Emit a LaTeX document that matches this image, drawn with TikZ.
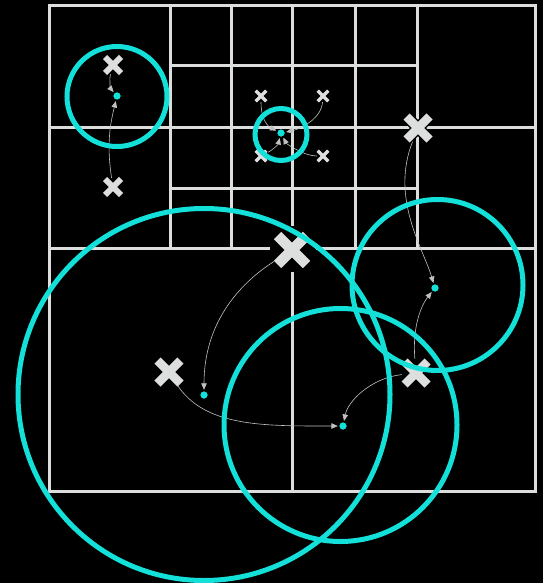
\documentclass[tikz,border=0pt]{standalone}
\usetikzlibrary{arrows.meta}
\definecolor{gridgray}{HTML}{DCDEDD}
\definecolor{xgray}{HTML}{DDDFDE}
\definecolor{arrgray}{HTML}{BFC2C1}
\definecolor{cyanring}{HTML}{13E0D8}
\newcommand{\xcross}[3]{%
  \draw[black, line width=#3+3pt, line cap=butt]
    ([shift={(-#2,-#2)}]#1.center) -- ([shift={(#2,#2)}]#1.center)
    ([shift={(-#2,#2)}]#1.center) -- ([shift={(#2,-#2)}]#1.center);
  \draw[xgray, line width=#3, line cap=butt]
    ([shift={(-#2,-#2)}]#1.center) -- ([shift={(#2,#2)}]#1.center)
    ([shift={(-#2,#2)}]#1.center) -- ([shift={(#2,-#2)}]#1.center);}
\tikzset{
  gridline/.style={gridgray, line width=3pt},
  cring/.style={cyanring, line width=5pt},
  dotnode/.style={circle, fill=cyanring, inner sep=0pt, minimum size=7pt},
  xnode/.style={circle, inner sep=0pt, draw=none},
  moveline/.style={arrgray, line width=0.6pt, shorten >=1.5pt,
    -{Triangle[length=6.5pt,width=5.5pt]}},
}
\begin{document}
\begin{tikzpicture}[x=1pt,y=-1pt]
\fill[black] (0,0) rectangle (543,583);
\useasboundingbox (0,0) rectangle (543,583);
% grid
\draw[gridline] (49,6) rectangle (535,491);
\draw[gridline] (292,6) -- (292,491);
\draw[gridline] (49,248) -- (535,248);
\draw[gridline] (49,127) -- (535,127);
\draw[gridline] (170,6) -- (170,248);
\draw[gridline] (231,6) -- (231,248);
\draw[gridline] (355,6) -- (355,248);
\draw[gridline] (417,6) -- (417,248);
\draw[gridline] (170,66) -- (417,66);
\draw[gridline] (170,188) -- (417,188);
% nodes for points
\node[xnode, minimum size=18pt] (a1) at (113,65) {};
\node[xnode, minimum size=18pt] (a2) at (113,187) {};
\node[xnode, minimum size=12pt] (b1) at (261,96) {};
\node[xnode, minimum size=12pt] (b2) at (323,96) {};
\node[xnode, minimum size=12pt] (b3) at (261,156) {};
\node[xnode, minimum size=12pt] (b4) at (323,156) {};
\node[xnode, minimum size=28pt] (c1) at (418,128) {};
\node[xnode, minimum size=28pt] (c2) at (416,373) {};
\node[xnode, minimum size=28pt] (c3) at (169,372) {};
\node[xnode, minimum size=42pt] (big) at (292,250) {};
\node[dotnode] (d1) at (117,96) {};
\node[dotnode] (d2) at (281,133) {};
\node[dotnode] (d3) at (435,288) {};
\node[dotnode] (d4) at (204,395) {};
\node[dotnode] (d5) at (343,426) {};
% halo of the big cross
\fill[black] (293,249) circle[radius=23];
% movement arrows
\draw[moveline] (a1) .. controls +(-4,14) and +(-6,-7) .. (d1);
\draw[moveline] (a2) .. controls +(-7,-45) and +(-6,25) .. (d1);
\draw[moveline] (b1) .. controls +(0,25) and +(-12,-6) .. (d2);
\draw[moveline] (b2) .. controls +(-2,25) and +(15,-3) .. (d2);
\draw[moveline] (b3) .. controls +(10,-5) and +(-3,12) .. (d2);
\draw[moveline] (b4) .. controls +(-20,0) and +(5,10) .. (d2);
\draw[moveline] (c1) .. controls +(-28,70) and +(-12,-40) .. (d3);
\draw[moveline] (c2) .. controls +(-4,-50) and +(-12,15) .. (d3);
\draw[moveline] (big) .. controls +(-55,35) and +(0,-70) .. (d4);
\draw[moveline] (c3) .. controls +(35,55) and +(-80,0) .. (d5);
\draw[moveline] (c2) .. controls +(-45,5) and +(5,-25) .. (d5);
% crosses
\xcross{big}{14.5}{10.5pt}
\xcross{c1}{11.5}{8.5pt}
\xcross{c2}{11.5}{8.5pt}
\xcross{c3}{11.5}{8.5pt}
\xcross{a1}{8}{6pt}
\xcross{a2}{8}{6pt}
\xcross{b1}{5.3}{3.2pt}
\xcross{b2}{5.3}{3.2pt}
\xcross{b3}{5.3}{3.2pt}
\xcross{b4}{5.3}{3.2pt}
% rings
\draw[cring] (117,96.5) circle[radius=50];
\draw[cring] (281,134.5) circle[radius=26];
\draw[cring] (437.5,285) circle[radius=85.5];
\draw[cring] (340.5,425) circle[radius=116.5];
\draw[cring] (204,394.5) circle[radius=186];
% dots on top
\node[dotnode] at (d1) {};
\node[dotnode] at (d2) {};
\node[dotnode] at (d3) {};
\node[dotnode] at (d4) {};
\node[dotnode] at (d5) {};
\end{tikzpicture}
\end{document}
